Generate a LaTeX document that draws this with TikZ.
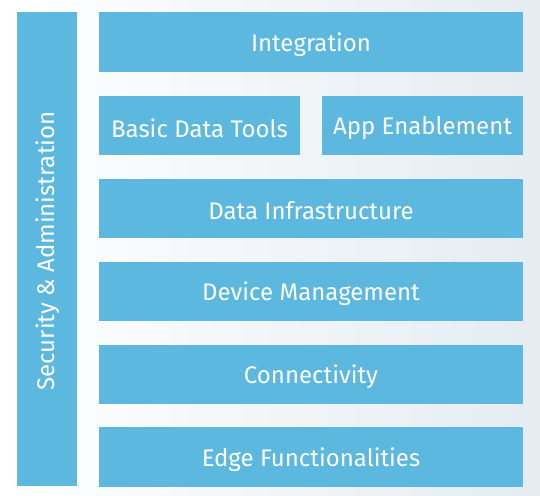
\documentclass[tikz,border=0pt]{standalone}
\usepackage{fontspec}
\setmainfont{Fira Sans}
\definecolor{boxblue}{RGB}{92,184,222}
\definecolor{bgright}{RGB}{228,236,242}
\begin{document}
\begin{tikzpicture}[x=1pt,y=-1pt,
  blk/.style={fill=none,draw=none,text=white,font=\fontsize{24}{28}\selectfont}]
\shade[left color=white,right color=bgright,shading angle=90] (0,0) rectangle (540,495);
\useasboundingbox (0,0) rectangle (540,495);
\fill[boxblue] (17,12) rectangle (77,486);
\node[blk,rotate=90] (sec) at (48,251) {Security \& Administration};
\fill[boxblue] (99,12) rectangle (523,72);
\node[blk] (int) at (311,44.5) {Integration};
\fill[boxblue] (99,96) rectangle (300,155);
\node[blk] (bdt) at (199.5,128) {Basic Data Tools};
\fill[boxblue] (322,96) rectangle (523,155);
\node[blk] (app) at (422.5,128) {App Enablement};
\fill[boxblue] (99,179) rectangle (523,238);
\node[blk] (dinf) at (311,211) {Data Infrastructure};
\fill[boxblue] (99,262) rectangle (523,321);
\node[blk] (dev) at (311,294) {Device Management};
\fill[boxblue] (99,345) rectangle (523,404);
\node[blk] (con) at (311,377) {Connectivity};
\fill[boxblue] (99,427) rectangle (523,487);
\node[blk] (edge) at (311,459.5) {Edge Functionalities};
\end{tikzpicture}
\end{document}
